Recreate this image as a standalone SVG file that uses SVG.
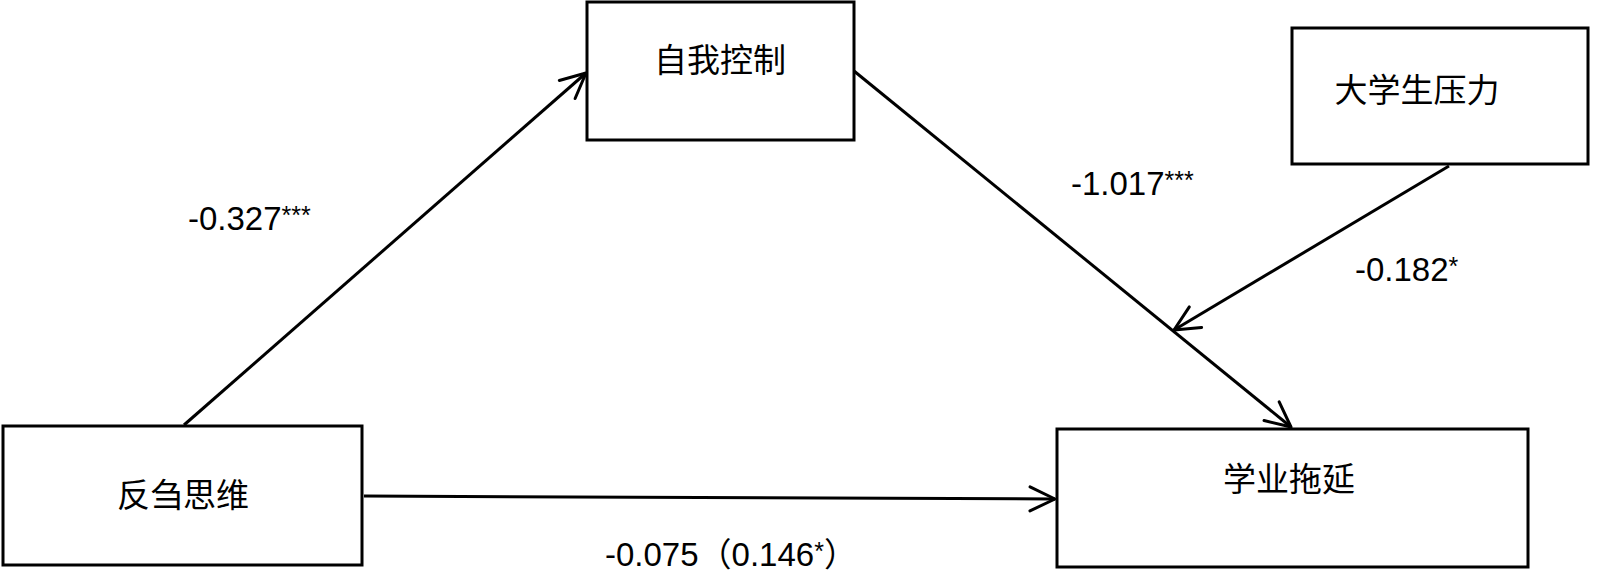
<svg xmlns="http://www.w3.org/2000/svg" width="1600" height="581" viewBox="0 0 1600 581">
<style>
.box{fill:#fff;stroke:#000;stroke-width:3}
.lbl{font-family:"Liberation Sans","Noto Sans CJK SC",sans-serif;font-size:33px;fill:#000}
.node{font-family:"Noto Sans CJK SC","Liberation Sans",sans-serif;font-size:33px;fill:#000}
.edge{stroke:#000;stroke-width:3;fill:none}
.sup{font-size:25px}
</style>
<defs>
<marker id="arr" markerUnits="userSpaceOnUse" markerWidth="40" markerHeight="40" viewBox="-30 -20 40 40" refX="0" refY="0" orient="auto" overflow="visible">
<path d="M-25,-12 L0,0 L-25,12" fill="none" stroke="#000" stroke-width="3" stroke-linecap="round" stroke-linejoin="round"/>
</marker>
</defs>
<g id="connectors">
<line class="edge" x1="184" y1="425" x2="586" y2="73" marker-end="url(#arr)"/>
<line class="edge" x1="854" y1="71" x2="1291" y2="427" marker-end="url(#arr)"/>
<line class="edge" x1="1449" y1="166" x2="1174" y2="330" marker-end="url(#arr)"/>
<line class="edge" x1="364" y1="496" x2="1055" y2="499" marker-end="url(#arr)"/>
</g>
<g id="node-fanchu">
<rect class="box" x="3" y="426" width="359" height="139"/>
<text class="node" x="183" y="507" text-anchor="middle">反刍思维</text>
</g>
<g id="node-ziwo">
<rect class="box" x="587" y="2" width="267" height="138"/>
<text class="node" x="720" y="72" text-anchor="middle">自我控制</text>
</g>
<g id="node-yali">
<rect class="box" x="1292" y="28" width="296" height="136"/>
<text class="node" x="1417" y="102" text-anchor="middle">大学生压力</text>
</g>
<g id="node-tuoyan">
<rect class="box" x="1057" y="429" width="471" height="138"/>
<text class="node" x="1289" y="491" text-anchor="middle">学业拖延</text>
</g>
<g id="labels">
<text class="lbl" x="188" y="230">-0.327<tspan class="sup" dy="-6">***</tspan></text>
<text class="lbl" x="1071" y="195">-1.017<tspan class="sup" dy="-6">***</tspan></text>
<text class="lbl" x="1355" y="281">-0.182<tspan class="sup" dy="-6">*</tspan></text>
<text class="lbl" x="605" y="566">-0.075（0.146<tspan class="sup" dy="-6">*</tspan><tspan dy="6">）</tspan></text>
</g>
</svg>
